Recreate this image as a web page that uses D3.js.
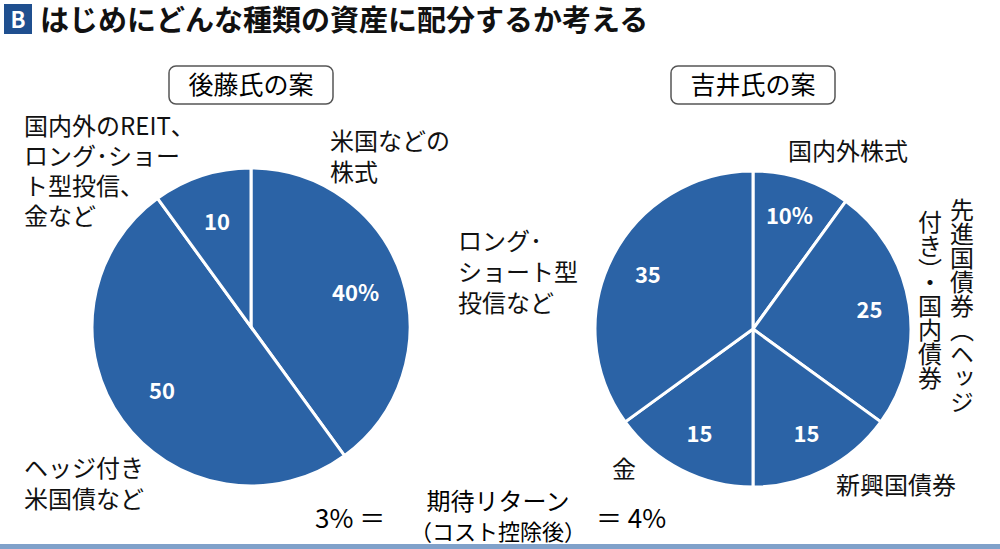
<!DOCTYPE html>
<html><head><meta charset="utf-8">
<script src="https://cdn.jsdelivr.net/npm/d3@7"></script>
<style>body{margin:0;background:#fff}text{font-family:"Noto Sans CJK JP",sans-serif}</style>
</head><body><div id="chart"></div>
<script>
// data
const gotoNames = ["米国などの株式", "ヘッジ付き米国債など", "国内外のREIT等"];
const gotoValues = [40, 50, 10];
const gotoLabels = ["40%", "50", "10"];
const yoshiiNames = ["国内外株式", "先進国債券・国内債券", "新興国債券", "金", "ロング・ショート型投信など"];
const yoshiiValues = [10, 25, 15, 15, 35];
const yoshiiLabels = ["10%", "25", "15", "15", "35"];

const width = 1000, height = 549, blue = "#2b63a6";
const svg = d3.select("#chart").append("svg").attr("width", width).attr("height", height);

// title
svg.append("rect").attr("x", 4).attr("y", 4).attr("width", 28).attr("height", 30).attr("fill", "#1f4f8f");
svg.append("text").attr("x", 18).attr("y", 28).attr("text-anchor", "middle").attr("fill", "#fff")
  .attr("font-size", 22).attr("font-weight", "bold").text("B");
svg.append("text").attr("x", 40).attr("y", 31).attr("font-size", 29).attr("font-weight", "bold")
  .attr("fill", "#111").text("はじめにどんな種類の資産に配分するか考える");
svg.append("rect").attr("x", 0).attr("y", 544).attr("width", width).attr("height", 5).attr("fill", blue).attr("opacity", 0.6);

function drawPie(cx, cy, r, values, labels, labelR) {
  const pie = d3.pie().sort(null)(values);
  const arc = d3.arc().innerRadius(0).outerRadius(r);
  const g = svg.append("g").attr("transform", `translate(${cx},${cy})`);
  g.selectAll("path").data(pie).join("path").attr("d", arc)
    .attr("fill", blue).attr("stroke", "#fff").attr("stroke-width", 3);
  const la = d3.arc().innerRadius(labelR).outerRadius(labelR);
  g.selectAll("text").data(pie).join("text")
    .attr("transform", d => `translate(${la.centroid(d)})`)
    .attr("text-anchor", "middle").attr("dy", "0.35em")
    .attr("fill", "#fff").attr("font-size", 22).attr("font-weight", "bold")
    .text((d, i) => labels[i]);
}
drawPie(251, 327, 159, gotoValues, gotoLabels, 110);
drawPie(753, 329, 158, yoshiiValues, yoshiiLabels, 118);

// plan boxes
function planBox(cx, t) {
  svg.append("rect").attr("x", cx - 82).attr("y", 66).attr("width", 164).attr("height", 38)
    .attr("rx", 7).attr("fill", "#fff").attr("stroke", "#555").attr("stroke-width", 1.5);
  svg.append("text").attr("x", cx).attr("y", 94).attr("text-anchor", "middle").attr("font-size", 25).text(t);
}
planBox(251, "後藤氏の案");
planBox(753, "吉井氏の案");

function lines(x, y, arr, anchor = "start", size = 24, lh = 31) {
  const t = svg.append("text").attr("x", x).attr("y", y).attr("font-size", size).attr("text-anchor", anchor).attr("fill", "#111");
  arr.forEach((s, i) => t.append("tspan").attr("x", x).attr("dy", i ? lh : 0).text(s));
}
lines(24, 135, ["国内外のREIT、", "ロング･ショー", "ト型投信、", "金など"], "start", 24, 30);
lines(330, 150, ["米国などの", "株式"]);
lines(24, 477, ["ヘッジ付き", "米国債など"]);
lines(458, 250, ["ロング･", "ショート型", "投信など"]);
lines(788, 160, ["国内外株式"]);
lines(836, 494, ["新興国債券"]);
lines(612, 478, ["金"]);

// vertical label
[["先進国債券（ヘッジ", 962], ["付き）・国内債券", 930]].forEach(([s, x], i) => {
  svg.append("text").attr("x", x).attr("y", i ? 210 : 198).attr("font-size", 24)
    .style("writing-mode", "vertical-rl").attr("fill", "#111").text(s);
});

// formula
svg.append("text").attr("x", 315).attr("y", 528).attr("font-size", 26).text("3% ＝");
svg.append("text").attr("x", 498).attr("y", 510).attr("font-size", 24).attr("text-anchor", "middle").text("期待リターン");
svg.append("text").attr("x", 498).attr("y", 540).attr("font-size", 22).attr("text-anchor", "middle").text("（コスト控除後）");
svg.append("text").attr("x", 596).attr("y", 528).attr("font-size", 26).text("＝ 4%");
</script></body></html>
